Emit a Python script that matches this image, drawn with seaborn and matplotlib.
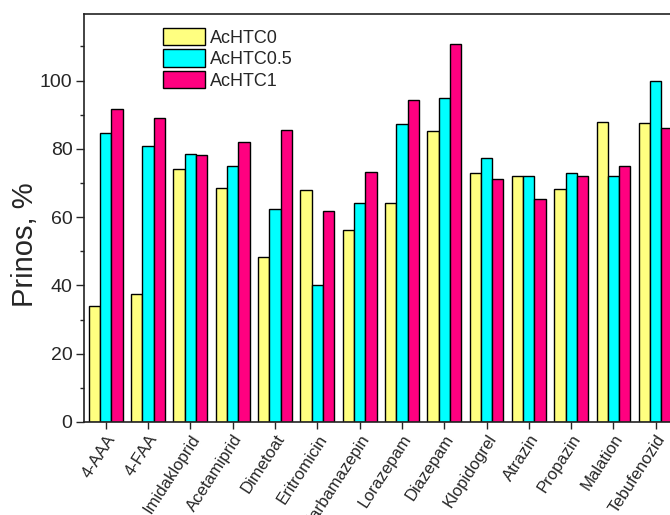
import pandas as pd
import matplotlib
matplotlib.use('Agg')
import matplotlib.pyplot as plt
from matplotlib.ticker import MultipleLocator
import seaborn as sns

sns.set_style("ticks")
plt.rcParams['font.family'] = ['Liberation Sans', 'DejaVu Sans']

# datos
compounds = ['4-AAA', '4-FAA', 'Imidakloprid', 'Acetamiprid', 'Dimetoat', 'Eritromicin',
             'Karbamazepin', 'Lorazepam', 'Diazepam', 'Klopidogrel', 'Atrazin',
             'Propazin', 'Malation', 'Tebufenozid']
achtc0 = [34.1, 37.4, 74.2, 68.6, 48.4, 68.0, 56.3, 64.0, 85.2, 72.9, 72.1, 68.1, 87.8, 87.5]
achtc05 = [84.7, 80.7, 78.4, 74.9, 62.5, 40.0, 64.2, 87.3, 95.0, 77.2, 72.1, 72.8, 72.1, 99.9]
achtc1 = [91.7, 89.1, 78.3, 82.1, 85.4, 61.7, 73.1, 94.2, 110.7, 71.2, 65.4, 72.1, 74.9, 86.0]
series = ['AcHTC0', 'AcHTC0.5', 'AcHTC1']
colors = ['#FFFF80', '#00FFFF', '#FF0080']

df = pd.DataFrame({'compound': compounds * 3,
                   'series': [s for s in series for _ in compounds],
                   'value': achtc0 + achtc05 + achtc1})

fig = plt.figure(figsize=(6.7, 5.15), dpi=100)
# el eje se sale por la derecha, como en la figura original
ax = fig.add_axes([83.5 / 670, 93 / 515, 594.5 / 670, 408 / 515])

sns.barplot(data=df, x='compound', y='value', hue='series', order=compounds,
            hue_order=series, palette=colors, edgecolor='black', linewidth=1.0,
            width=0.8, gap=0, saturation=1, errorbar=None, ax=ax)

ax.set_xlim(-0.525, 13.525)
ax.set_ylim(0, 119.5)
ax.yaxis.set_major_locator(MultipleLocator(20))
ax.yaxis.set_minor_locator(MultipleLocator(10))
ax.tick_params(axis='y', which='major', length=6, width=1, labelsize=14, pad=2)
ax.tick_params(axis='y', which='minor', length=3, width=1)
ax.tick_params(axis='x', which='major', length=5, width=1, labelsize=12, pad=2)
ax.set_xlabel('')
ax.set_ylabel('Prinos, %', fontsize=21)
ax.yaxis.set_label_coords(-0.075, 0.434)
plt.setp(ax.get_xticklabels(), rotation=57, ha='right', rotation_mode='anchor')

for sp in ax.spines.values():
    sp.set_linewidth(1.2)
    sp.set_color('#222222')

ax.legend(loc='upper left', bbox_to_anchor=(0.133, 0.966), frameon=False,
          fontsize=13, borderpad=0, borderaxespad=0, handlelength=2.35,
          handleheight=1.1, labelspacing=0.15, handletextpad=0.3)

plt.savefig('out.png', dpi=100)
plt.close()
